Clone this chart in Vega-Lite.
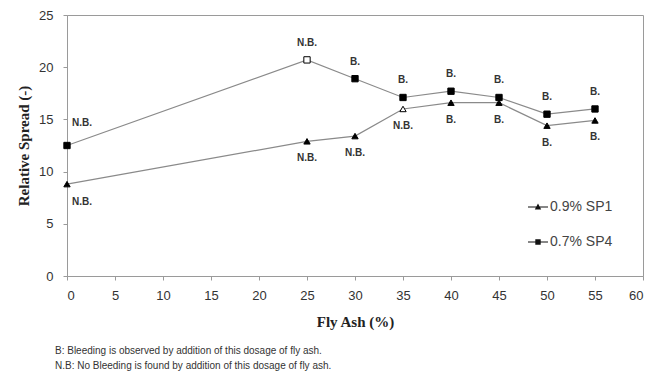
{
  "$schema": "https://vega.github.io/schema/vega-lite/v6.json",
  "width": 576,
  "height": 261,
  "autosize": "none",
  "padding": {"left": 67, "top": 15, "right": 11, "bottom": 109},
  "background": "white",
  "config": {
    "view": {"stroke": "#9a9a9a", "strokeWidth": 1},
    "axis": {
      "grid": false,
      "domainColor": "#9a9a9a",
      "tickColor": "#9a9a9a",
      "tickSize": 4,
      "labelFont": "Liberation Sans",
      "labelFontSize": 13,
      "labelColor": "#333",
      "titleFont": "Liberation Serif",
      "titleFontSize": 15,
      "titleFontWeight": "bold",
      "titleColor": "#222"
    }
  },
  "title": {
    "text": [
      "B: Bleeding is observed by addition of this  dosage of fly ash.",
      "N.B: No Bleeding is found by addition of this dosage of fly ash."
    ],
    "orient": "bottom",
    "anchor": "start",
    "frame": "group",
    "dx": -12,
    "offset": 17,
    "font": "Liberation Sans",
    "fontSize": 10,
    "fontWeight": "normal",
    "color": "#333",
    "lineHeight": 15
  },
  "data": {
    "values": [
      {"ash": 0, "series": "0.9% SP1", "spread": 8.8, "note": "N.B."},
      {"ash": 25, "series": "0.9% SP1", "spread": 12.9, "note": "N.B."},
      {"ash": 30, "series": "0.9% SP1", "spread": 13.4, "note": "N.B."},
      {"ash": 35, "series": "0.9% SP1", "spread": 16.0, "note": "N.B."},
      {"ash": 40, "series": "0.9% SP1", "spread": 16.6, "note": "B."},
      {"ash": 45, "series": "0.9% SP1", "spread": 16.6, "note": "B."},
      {"ash": 50, "series": "0.9% SP1", "spread": 14.4, "note": "B."},
      {"ash": 55, "series": "0.9% SP1", "spread": 14.9, "note": "B."},
      {"ash": 0, "series": "0.7% SP4", "spread": 12.5, "note": "N.B."},
      {"ash": 25, "series": "0.7% SP4", "spread": 20.7, "note": "N.B."},
      {"ash": 30, "series": "0.7% SP4", "spread": 18.9, "note": "B."},
      {"ash": 35, "series": "0.7% SP4", "spread": 17.1, "note": "B."},
      {"ash": 40, "series": "0.7% SP4", "spread": 17.7, "note": "B."},
      {"ash": 45, "series": "0.7% SP4", "spread": 17.1, "note": "B."},
      {"ash": 50, "series": "0.7% SP4", "spread": 15.5, "note": "B."},
      {"ash": 55, "series": "0.7% SP4", "spread": 16.0, "note": "B."}
    ]
  },
  "encoding": {
    "x": {
      "field": "ash",
      "type": "quantitative",
      "scale": {"domain": [0, 60], "nice": false},
      "axis": {"values": [0, 5, 10, 15, 20, 25, 30, 35, 40, 45, 50, 55, 60], "title": "Fly Ash (%)", "labelPadding": 9, "titlePadding": 12}
    },
    "y": {
      "field": "spread",
      "type": "quantitative",
      "scale": {"domain": [0, 25], "nice": false},
      "axis": {"values": [0, 5, 10, 15, 20, 25], "title": "Relative Spread (-)", "labelPadding": 10, "titlePadding": 7}
    }
  },
  "layer": [
    {
      "mark": {"type": "line", "color": "#8a8a8a", "strokeWidth": 1.2},
      "encoding": {"detail": {"field": "series"}}
    },
    {
      "mark": {"type": "point", "filled": false, "stroke": "#000", "strokeWidth": 1, "opacity": 1},
      "encoding": {
        "shape": {
          "condition": {"test": "datum.series === '0.9% SP1'", "value": "triangle-up"},
          "value": "square"
        },
        "fill": {
          "condition": {"test": "(datum.series === '0.7% SP4' && datum.ash === 25) || (datum.series === '0.9% SP1' && datum.ash === 35)", "value": "#fff"},
          "value": "#000"
        },
        "size": {"value": 40}
      }
    },
    {
      "transform": [{"filter": "false"}],
      "mark": {"type": "point", "filled": true, "color": "#111", "opacity": 1},
      "encoding": {
        "shape": {
          "field": "series",
          "type": "nominal",
          "scale": {
            "domain": ["0.9% SP1", "0.7% SP4"],
            "range": [
              "M-1,-0.05H1V0.05H-1ZM0,-0.34L0.32,0.26L-0.32,0.26Z",
              "M-1,-0.05H1V0.05H-1ZM-0.27,-0.27H0.27V0.27H-0.27Z"
            ]
          },
          "legend": {
            "orient": "none",
            "legendX": 460,
            "legendY": 181,
            "title": null,
            "symbolSize": 400,
            "symbolOpacity": 1,
            "labelFont": "Liberation Sans",
            "labelFontSize": 14,
            "labelColor": "#444",
            "labelOffset": 1,
            "rowPadding": 17
          }
        }
      }
    },
    {
      "transform": [{"filter": "datum.series === '0.7% SP4' && datum.ash > 0"}],
      "mark": {"type": "text", "dy": -17, "font": "Liberation Sans", "fontSize": 10, "fontWeight": "bold", "color": "#333"},
      "encoding": {"text": {"field": "note"}}
    },
    {
      "transform": [{"filter": "datum.series === '0.9% SP1' && datum.ash > 0"}],
      "mark": {"type": "text", "dy": 17, "font": "Liberation Sans", "fontSize": 10, "fontWeight": "bold", "color": "#333"},
      "encoding": {"text": {"field": "note"}}
    },
    {
      "transform": [{"filter": "datum.series === '0.7% SP4' && datum.ash === 0"}],
      "mark": {"type": "text", "dy": -23, "dx": 15, "font": "Liberation Sans", "fontSize": 10, "fontWeight": "bold", "color": "#333"},
      "encoding": {"text": {"field": "note"}}
    },
    {
      "transform": [{"filter": "datum.series === '0.9% SP1' && datum.ash === 0"}],
      "mark": {"type": "text", "dy": 18, "dx": 15, "font": "Liberation Sans", "fontSize": 10, "fontWeight": "bold", "color": "#333"},
      "encoding": {"text": {"field": "note"}}
    }
  ]
}
